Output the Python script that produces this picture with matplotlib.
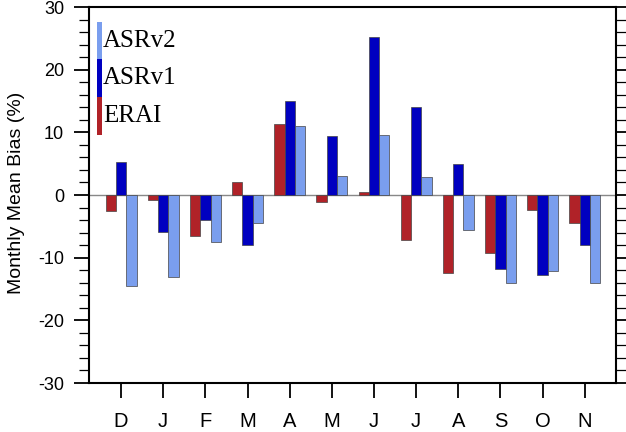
import matplotlib
matplotlib.use("Agg")
import matplotlib.pyplot as plt
import numpy as np
from matplotlib.ticker import MultipleLocator
from matplotlib.patches import Rectangle

plt.rcParams["axes.unicode_minus"] = False

months = ["D", "J", "F", "M", "A", "M", "J", "J", "A", "S", "O", "N"]
erai = [-2.5, -0.8, -6.6, 2.0, 11.4, -1.1, 0.5, -7.2, -12.4, -9.3, -2.4, -4.4]
asrv1 = [5.2, -5.9, -4.0, -8.0, 15.0, 9.4, 25.2, 14.0, 4.9, -11.8, -12.7, -7.9]
asrv2 = [-14.5, -13.1, -7.5, -4.4, 11.0, 3.1, 9.6, 2.8, -5.6, -14.0, -12.1, -14.0]
series_names = ["ERAI", "ASRv1", "ASRv2"]

c_erai = "#b02228"
c_v1 = "#0000c0"
c_v2 = "#7a9eee"
colors = [c_erai, c_v1, c_v2]

W, H = 626, 432
fig = plt.figure(figsize=(W/100, H/100), dpi=100)
ax = fig.add_axes([89/W, 1-383/H, (616-89)/W, (383-7)/H])

x = np.arange(len(months))
w = 0.245
ax.axhline(0, color="#888888", lw=1.0, zorder=1)
for k, (vals, col) in enumerate(zip([erai, asrv1, asrv2], colors)):
    ax.bar(x + (k-1)*w, vals, w, color=col, edgecolor="#444444", linewidth=0.5, zorder=2)

ax.set_xlim(-0.76, 11.74)
ax.set_ylim(-30, 30)
ax.set_xticks(x)
ax.set_xticklabels(months, fontsize=14.5, family="Liberation Sans")
ax.yaxis.set_major_locator(MultipleLocator(10))
ax.yaxis.set_minor_locator(MultipleLocator(2))
for lab in ax.get_yticklabels():
    lab.set_family("Liberation Sans")
    lab.set_fontsize(13)
ax.tick_params(axis="y", which="major", direction="out", length=11, width=1.3, right=True, pad=7)
ax.tick_params(axis="y", which="minor", direction="out", length=7, width=0.9, right=True)
ax.tick_params(axis="x", which="major", direction="out", length=11, width=1.3, pad=10)
for s in ax.spines.values():
    s.set_linewidth(1.5)
ax.set_ylabel("Monthly Mean Bias (%)", fontsize=14, family="Liberation Sans", va="center")
ax.yaxis.set_label_coords((17-89)/527, 0.505)

# legend: stacked colour strips with labels (pixel layout -> axes fraction)
axw, axh = 616-89, 383-7
def ax_frac(px, py):
    return (px-89)/axw, (383-py)/axh
strip_top = 22.0
strip_h = 37.5
for i, (name, col) in enumerate(zip(series_names[::-1], colors[::-1])):
    top = strip_top + i*strip_h
    x0, y0 = ax_frac(97, top + strip_h)
    ax.add_patch(Rectangle((x0, y0), 5/axw, strip_h/axh, transform=ax.transAxes,
                           facecolor=col, edgecolor="none", zorder=3, clip_on=False))
    tx, ty = ax_frac(103, top + strip_h/2)
    ax.text(tx, ty, name, transform=ax.transAxes, ha="left", va="center",
            family="Liberation Serif", fontsize=18, zorder=3)

fig.savefig("out.png", dpi=100)
